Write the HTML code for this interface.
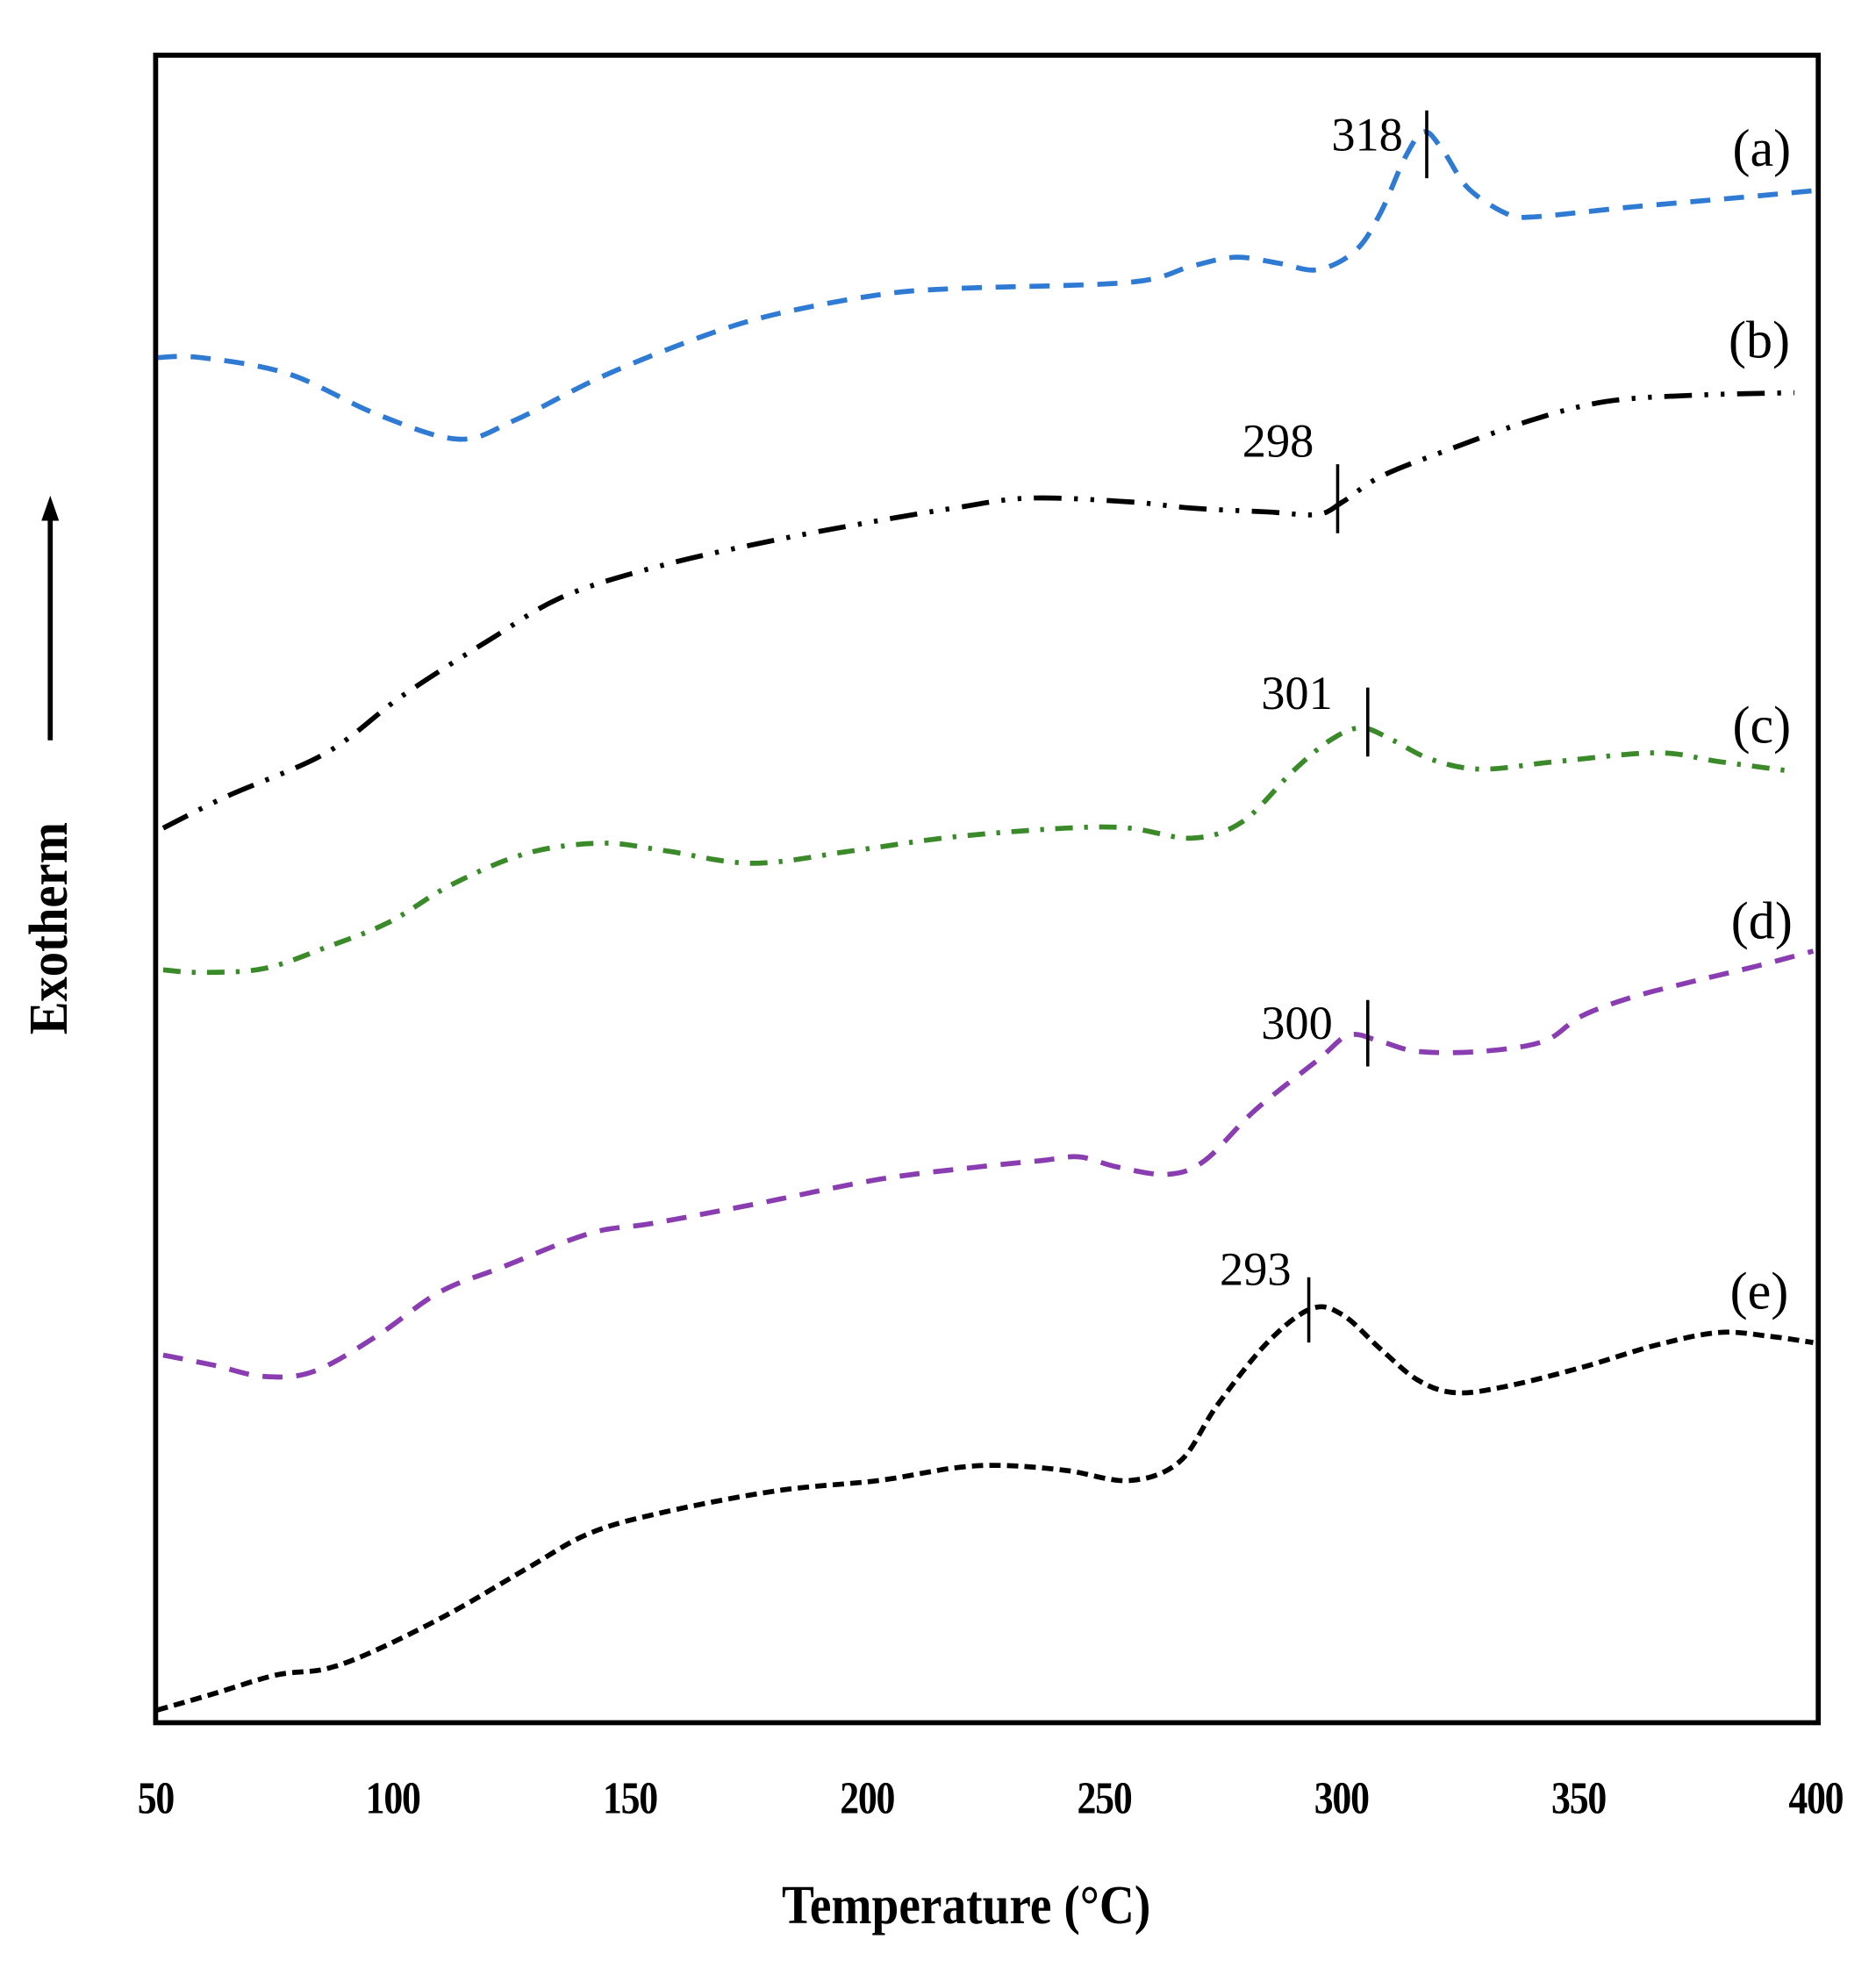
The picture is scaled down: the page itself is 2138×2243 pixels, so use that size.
<!DOCTYPE html>
<html><head><meta charset="utf-8"><style>
html,body{margin:0;padding:0;background:#fff;}
svg{display:block;}
text{font-family:"Liberation Serif",serif;}
</style></head><body>
<svg id="s" width="2138" height="2243" viewBox="0 0 1495 1568.5" xmlns="http://www.w3.org/2000/svg">
<rect x="0" y="0" width="1495" height="1568.5" fill="#fff"/>
<g id="curves"></g>
<rect x="124" y="44" width="1325" height="1329" fill="none" stroke="#000" stroke-width="4"/>
<g stroke="#000" stroke-width="2.5">
<line x1="1137" y1="88" x2="1137" y2="142"/>
<line x1="1066" y1="370" x2="1066" y2="425"/>
<line x1="1090" y1="548" x2="1090" y2="603"/>
<line x1="1090" y1="797" x2="1090" y2="850"/>
<line x1="1043" y1="1018" x2="1043" y2="1070"/>
</g>
<g font-size="38" fill="#000">
<text x="1118" y="120" text-anchor="end">318</text>
<text x="1047" y="364" text-anchor="end">298</text>
<text x="1062" y="565" text-anchor="end">301</text>
<text x="1062" y="828" text-anchor="end">300</text>
<text x="1029" y="1024" text-anchor="end">293</text>
</g>
<g font-size="42" fill="#000" text-anchor="middle">
<text x="1404" y="132">(a)</text>
<text x="1402" y="285">(b)</text>
<text x="1404" y="592">(c)</text>
<text x="1404" y="748">(d)</text>
<text x="1402" y="1043">(e)</text>
</g>
<g font-size="36" font-weight="bold" fill="#000" text-anchor="middle" letter-spacing="-1">
<text transform="translate(124,1445) scale(0.85,1)">50</text>
<text transform="translate(313,1445) scale(0.85,1)">100</text>
<text transform="translate(502,1445) scale(0.85,1)">150</text>
<text transform="translate(691,1445) scale(0.85,1)">200</text>
<text transform="translate(880,1445) scale(0.85,1)">250</text>
<text transform="translate(1069,1445) scale(0.85,1)">300</text>
<text transform="translate(1258,1445) scale(0.85,1)">350</text>
<text transform="translate(1447,1445) scale(0.85,1)">400</text>
</g>
<text transform="translate(770,1533) scale(0.88,1)" font-size="44" font-weight="bold" text-anchor="middle">Temperature (°C)</text>
<text transform="translate(53,740) rotate(-90) scale(0.9,1)" font-size="44" font-weight="bold" text-anchor="middle">Exotherm</text>
<line x1="40" y1="590" x2="40" y2="410" stroke="#000" stroke-width="4"/>
<polygon points="40,395 33,415 47,415" fill="#000"/>
</svg>
<script>
function cr(p){var d="M"+p[0][0]+","+p[0][1];for(var i=0;i<p.length-1;i++){var p0=p[i-1]||p[i],p1=p[i],p2=p[i+1],p3=p[i+2]||p2;
d+=" C"+(p1[0]+(p2[0]-p0[0])/6)+","+(p1[1]+(p2[1]-p0[1])/6)+" "+(p2[0]-(p3[0]-p1[0])/6)+","+(p2[1]-(p3[1]-p1[1])/6)+" "+p2[0]+","+p2[1];}return d;}
var S=[
{c:"#2f7bd4",w:4,da:"16,11",p:[[125,285],[160,285],[230,298],[300,330],[365,350],[410,335],[480,300],[560,268],[620,250],[700,235],[760,230],[900,225],[950,212],[985,205],[1020,210],[1050,215],[1080,200],[1100,170],[1120,125],[1135,105],[1150,120],[1170,150],[1200,170],[1220,173],[1300,165],[1380,158],[1445,152]]},
{c:"#000",w:4,da:"22,10,3,10,3,10",p:[[130,660],[180,635],[260,600],[320,555],[390,510],[450,475],[530,450],[620,430],[700,415],[760,405],[820,397],[900,400],[950,405],[1010,408],[1050,410],[1070,400],[1100,380],[1150,360],[1220,335],[1280,320],[1350,315],[1430,313]]},
{c:"#3a8a2a",w:4,da:"14,9,3,9",p:[[130,773],[160,775],[210,772],[260,755],[310,735],[360,705],[420,680],[480,672],[530,678],[600,688],[680,678],[760,667],[850,660],[900,660],[950,668],[990,655],[1030,615],[1060,590],[1085,580],[1110,590],[1140,605],[1180,613],[1240,607],[1320,600],[1370,607],[1430,615]]},
{c:"#8a3db0",w:4,da:"16,11",p:[[130,1080],[170,1088],[210,1097],[250,1093],[300,1065],[350,1030],[400,1010],[470,983],[520,975],[600,960],[700,940],[780,930],[830,925],[860,922],[890,930],[930,936],[960,925],[1000,885],[1050,845],[1075,825],[1100,830],[1130,838],[1180,838],[1230,830],[1260,810],[1300,795],[1350,782],[1400,770],[1445,758]]},
{c:"#000",w:4,da:"9,5",p:[[125,1363],[170,1350],[220,1335],[260,1330],[300,1315],[360,1285],[420,1250],[470,1222],[530,1205],[620,1188],[700,1180],[760,1170],[800,1168],[850,1172],[900,1180],[940,1165],[970,1120],[1010,1070],[1045,1043],[1070,1048],[1100,1075],[1130,1100],[1160,1110],[1200,1105],[1260,1090],[1320,1072],[1370,1062],[1410,1065],[1445,1070]]}];
var g=document.getElementById("curves"),h="";
S.forEach(function(s){h+='<path d="'+cr(s.p)+'" fill="none" stroke="'+s.c+'" stroke-width="'+s.w+'" stroke-dasharray="'+s.da+'"/>';});
g.innerHTML=h;
</script>
</body></html>
